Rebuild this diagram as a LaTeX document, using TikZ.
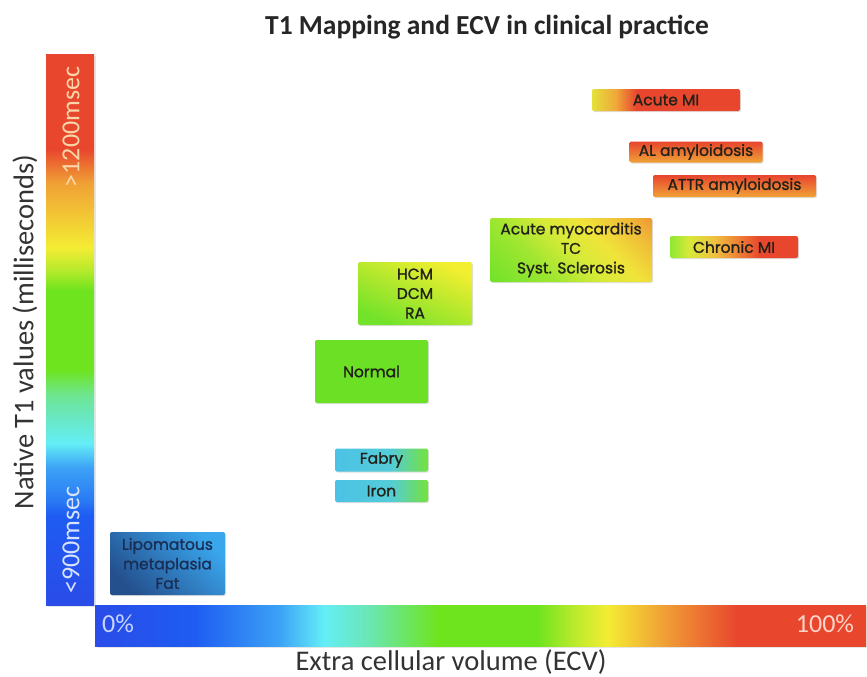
\documentclass[tikz,border=0pt]{standalone}
\usepackage{fontspec}
\setmainfont{Carlito}
\newfontfamily\boxfont{Poppins}[FakeBold=1.2]
\usetikzlibrary{shadows}

% bar colours
\definecolor{bA}{HTML}{2A4CE8}
\definecolor{bB}{HTML}{1E5CF2}
\definecolor{bB2}{HTML}{2A7AF4}
\definecolor{bC}{HTML}{3CA2F6}
\definecolor{bD}{HTML}{64EEF6}
\definecolor{bE}{HTML}{6AE6B4}
\definecolor{bE2}{HTML}{6EE690}
\definecolor{bF}{HTML}{6EE41E}
\definecolor{bYG}{HTML}{B8EA2C}
\definecolor{bY}{HTML}{F4EC34}
\definecolor{bO}{HTML}{F0A035}
\definecolor{bR}{HTML}{E8472E}
% box colours
\definecolor{aY}{HTML}{E4E03C}
\definecolor{aO}{HTML}{F0A838}
\definecolor{aR}{HTML}{E8472E}
\definecolor{cG}{HTML}{8EE832}
\definecolor{cY}{HTML}{D8E83A}
\definecolor{cO}{HTML}{F0C040}
\definecolor{cO2}{HTML}{EE7A35}
\definecolor{mG}{HTML}{70E22A}
\definecolor{mG2}{HTML}{9EE630}
\definecolor{mYG}{HTML}{D6EA38}
\definecolor{mY}{HTML}{F0E43A}
\definecolor{mO}{HTML}{F0C038}
\definecolor{mO2}{HTML}{EE9632}
\definecolor{fC}{HTML}{4CC2E6}
\definecolor{fC2}{HTML}{54CCD8}
\definecolor{fG}{HTML}{74E23C}
\definecolor{amyTop}{HTML}{E8442E}
\definecolor{amyBot}{HTML}{F0A236}
\definecolor{hcmTop}{HTML}{F2EE30}
\definecolor{hcmBot}{HTML}{72E22A}
\definecolor{normG}{HTML}{6CE024}
\definecolor{lipoDark}{HTML}{24508E}
\definecolor{lipoLight}{HTML}{3AA6EC}
\definecolor{lipoTxt}{HTML}{1A2D55}
\definecolor{txt}{HTML}{222218}
\definecolor{axtxt}{HTML}{333333}
\definecolor{hiTxt}{HTML}{F8D6A8}
\definecolor{loTxt}{HTML}{D8E4FF}
\definecolor{zeroTxt}{HTML}{C8D4FF}
\definecolor{hundTxt}{HTML}{FAD4C8}

\pgfdeclarehorizontalshading{ecvshade}{100bp}{color(0bp)=(bA); color(25bp)=(bA); color(31.45bp)=(bB); color(36.95bp)=(bC); color(39.85bp)=(bD); color(42.75bp)=(bE); color(47.25bp)=(bF); color(53.7bp)=(bF); color(56bp)=(bYG); color(58.25bp)=(bY); color(61.85bp)=(bO); color(66.6bp)=(bR); color(75bp)=(bR); color(100bp)=(bR)}
\pgfdeclareverticalshading{tonshade}{100bp}{color(0bp)=(bA); color(25bp)=(bA); color(33.2bp)=(bB); color(34.5bp)=(bB2); color(37.5bp)=(bC); color(39.7bp)=(bD); color(42.7bp)=(bE); color(44.1bp)=(bE2); color(46.4bp)=(bF); color(53.6bp)=(bF); color(55.5bp)=(bYG); color(57.5bp)=(bY); color(63.4bp)=(bO); color(66.4bp)=(bR); color(75bp)=(bR); color(100bp)=(bR)}
\pgfdeclarehorizontalshading{amishade}{100bp}{color(0bp)=(aY); color(25bp)=(aY); color(33bp)=(aO); color(40bp)=(aR); color(75bp)=(aR); color(100bp)=(aR)}
\pgfdeclarehorizontalshading{cmishade}{100bp}{color(0bp)=(cG); color(25bp)=(cG); color(32.5bp)=(cY); color(42.5bp)=(cO); color(52.5bp)=(cO2); color(60bp)=(aR); color(75bp)=(aR); color(100bp)=(aR)}
\pgfdeclareverticalshading{myoshade}{100bp}{color(0bp)=(mG); color(14bp)=(mG); color(35bp)=(mG2); color(50bp)=(mYG); color(62bp)=(mY); color(75bp)=(mO); color(86bp)=(mO2); color(100bp)=(mO2)}
\pgfdeclarehorizontalshading{fabshade}{100bp}{color(0bp)=(fC); color(25bp)=(fC); color(55bp)=(fC2); color(75bp)=(fG); color(100bp)=(fG)}

\tikzset{
  dbox/.style={inner sep=0pt, rounded corners=2pt, align=center, text=txt,
    font=\boxfont\fontsize{15.5}{19.5}\selectfont,
    drop shadow={shadow xshift=1pt, shadow yshift=-1pt, opacity=0.25, fill=black!50}},
  barlabel/.style={font=\fontsize{26}{28}\selectfont, inner sep=0pt},
  axlabel/.style={font=\fontsize{28.5}{30}\selectfont, text=axtxt, inner sep=0pt}
}

\begin{document}
\begin{tikzpicture}[x=1pt,y=-1pt]
\useasboundingbox[fill=white] (0,0) rectangle (867,677);

% title
\node[font=\bfseries\fontsize{27.5}{30}\selectfont, text=black!85, inner sep=0pt] (title) at (487,27) {T1 Mapping and ECV in clinical practice};

% colour bars
\node[inner sep=0pt, minimum width=48pt, minimum height=550pt, shading=tonshade,
  drop shadow={shadow xshift=1.5pt, shadow yshift=-1.5pt, opacity=0.2, fill=black!50}] (tbar) at (70,330) {};
\node[inner sep=0pt, minimum width=771pt, minimum height=41pt, shading=ecvshade,
  drop shadow={shadow xshift=1.5pt, shadow yshift=-1.5pt, opacity=0.2, fill=black!50}] (ebar) at (480.5,625.5) {};

\node[barlabel, text=hiTxt, rotate=90] (hi) at (71,127) {>1200msec};
\node[barlabel, text=loTxt, rotate=90] (lo) at (71,540) {<900msec};
\node[barlabel, text=zeroTxt] (zero) at (118,624) {0\%};
\node[barlabel, text=hundTxt] (hundred) at (825,624) {100\%};

% axis labels
\node[axlabel, rotate=90] (ylab) at (25,332) {Native T1 values (milliseconds)};
\node[axlabel] (xlab) at (451,662) {Extra cellular volume (ECV)};

% disease boxes
\node[dbox, minimum width=148pt, minimum height=22pt, shading=amishade] (ami) at (666,100) {Acute MI};
\node[dbox, minimum width=133pt, minimum height=21pt, top color=amyTop, bottom color=amyBot] (al) at (696,152) {AL amyloidosis};
\node[dbox, minimum width=163pt, minimum height=22pt, top color=amyTop, bottom color=amyBot] (attr) at (734.5,186) {ATTR amyloidosis};
\node[dbox, minimum width=128pt, minimum height=22pt, shading=cmishade] (cmi) at (734,247) {Chronic MI};
\node[dbox, minimum width=162pt, minimum height=64pt, shading=myoshade, shading angle=-45] (myo) at (571,250) {Acute myocarditis\\TC\\Syst. Sclerosis};
\node[dbox, minimum width=114pt, minimum height=63pt, top color=hcmTop, bottom color=hcmBot, shading angle=-25] (hcm) at (415,293.5) {HCM\\DCM\\RA};
\node[dbox, minimum width=113pt, minimum height=63pt, fill=normG] (normal) at (371.5,371.5) {Normal};
\node[dbox, minimum width=93pt, minimum height=23pt, shading=fabshade] (fabry) at (381.5,460) {Fabry};
\node[dbox, minimum width=93pt, minimum height=22pt, shading=fabshade] (iron) at (381.5,491) {Iron};
\node[dbox, minimum width=115pt, minimum height=63pt, text=lipoTxt, bottom color=lipoDark, top color=lipoLight, shading angle=-45] (lipo) at (167.5,563.5) {Lipomatous\\metaplasia\\Fat};
\end{tikzpicture}
\end{document}
